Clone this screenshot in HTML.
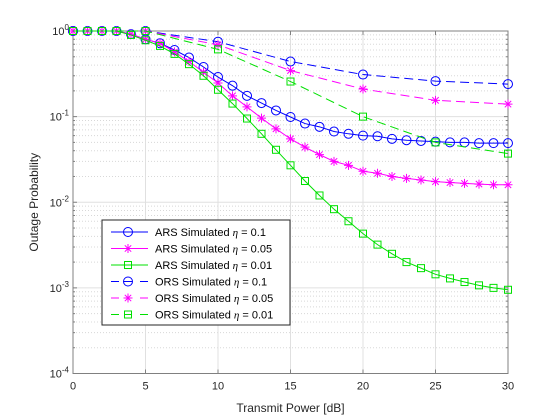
<!DOCTYPE html>
<html><head><meta charset="utf-8"><style>
body{margin:0;background:#fff;}
svg{display:block;font-family:"Liberation Sans",sans-serif;}
</style></head><body>
<svg id="chart" width="560" height="420"></svg>
<script>
const xTicks=[0,5,10,15,20,25,30];
const yTickExps=[0,-1,-2,-3,-4];
const dbAll=[];for(let i=0;i<=30;i++)dbAll.push(i);
const dbORS=[0,5,10,15,20,25,30];
const ars01=[1,1,1,1,0.92,0.8,0.72,0.6,0.49,0.38,0.29,0.23,0.175,0.144,0.118,0.099,0.083,0.076,0.067,0.063,0.06,0.059,0.055,0.053,0.052,0.051,0.05,0.05,0.049,0.049,0.049];
const ars005=[1,1,1,1,0.92,0.8,0.72,0.57,0.44,0.33,0.247,0.175,0.13,0.096,0.072,0.055,0.044,0.036,0.03,0.027,0.023,0.0218,0.02,0.019,0.0182,0.0174,0.017,0.0166,0.0163,0.016,0.016];
const ars001=[1,1,1,1,0.9,0.78,0.67,0.54,0.41,0.3,0.206,0.142,0.095,0.063,0.041,0.027,0.0177,0.012,0.0083,0.006,0.0043,0.0032,0.0025,0.002,0.0017,0.00144,0.00129,0.00117,0.00107,0.001,0.00095];
const ors01=[1,1,0.75,0.44,0.31,0.26,0.24];
const ors005=[1,1,0.69,0.345,0.21,0.155,0.14];
const ors001=[1,1,0.61,0.257,0.1,0.05,0.037];
const labels=["ARS Simulated","ARS Simulated","ARS Simulated","ORS Simulated","ORS Simulated","ORS Simulated"];
const etas=["0.1","0.05","0.01","0.1","0.05","0.01"];

const L=73,R=508,T=31,B=373.5;
const NS="http://www.w3.org/2000/svg";
const svg=document.getElementById('chart');
const X=v=>L+(v-0)/30*(R-L);
const Y=v=>T+(-Math.log10(v))/4*(B-T);
function mk(tag,attrs,parent){const e=document.createElementNS(NS,tag);for(const k in attrs)e.setAttribute(k,attrs[k]);(parent||svg).appendChild(e);return e;}

const grid=mk('g',{});


for(let d=0;d<4;d++){for(let m=2;m<=9;m++){const y=Y(m*Math.pow(10,-d-1));mk('line',{x1:L,x2:R,y1:y,y2:y,stroke:'#d8d8d8','stroke-dasharray':'1,2','stroke-width':1},grid);}}
xTicks.forEach(t=>{mk('line',{x1:X(t),x2:X(t),y1:T,y2:B,stroke:'#e0e0e0','stroke-width':1},grid);});
yTickExps.forEach(e=>{const y=Y(Math.pow(10,e));mk('line',{x1:L,x2:R,y1:y,y2:y,stroke:'#e0e0e0','stroke-width':1},grid);});

const axes=mk('g',{});


const AX='#808080';
mk('rect',{x:L,y:T,width:R-L,height:B-T,fill:'none',stroke:AX,'stroke-width':1},axes);
xTicks.forEach(t=>{
 mk('line',{x1:X(t),x2:X(t),y1:B,y2:B-4,stroke:AX},axes);
 mk('line',{x1:X(t),x2:X(t),y1:T,y2:T+4,stroke:AX},axes);
 const tx=mk('text',{x:X(t),y:B+16,'text-anchor':'middle','font-size':11,fill:'#262626'},axes);tx.textContent=t;
 
 
});
for(let d=0;d<4;d++){for(let m=2;m<=9;m++){const y=Y(m*Math.pow(10,-d-1));mk('line',{x1:L,x2:L+2,y1:y,y2:y,stroke:AX},axes);mk('line',{x1:R,x2:R-2,y1:y,y2:y,stroke:AX},axes);}}
yTickExps.forEach(e=>{
 const y=Y(Math.pow(10,e));
 mk('line',{x1:L,x2:L+4,y1:y,y2:y,stroke:AX},axes);
 mk('line',{x1:R,x2:R-4,y1:y,y2:y,stroke:AX},axes);
 const tx=mk('text',{x:L-4,y:y+4,'text-anchor':'end','font-size':11,fill:'#262626'},axes);
 tx.innerHTML='10<tspan dy="-5" font-size="8">'+e+'</tspan>';
 
 
});
const xt=mk('text',{x:(L+R)/2,y:412,'text-anchor':'middle','font-size':12,fill:'#262626'});
xt.textContent='Transmit Power [dB]';


const yt=mk('text',{x:0,y:0,'text-anchor':'middle','font-size':12,fill:'#262626',transform:'translate(38,'+((T+B)/2)+') rotate(-90)'});
yt.textContent='Outage Probability';



function marker(g,type,x,y,c){
 if(type==='o')mk('circle',{cx:x,cy:y,r:4.5,fill:'none',stroke:c},g);
 else if(type==='s')mk('rect',{x:x-3.5,y:y-3.5,width:7,height:7,fill:'none',stroke:c},g);
 else{const r=4.5;mk('path',{d:`M${x-r},${y}H${x+r}M${x},${y-r}V${y+r}M${x-3.2},${y-3.2}L${x+3.2},${y+3.2}M${x-3.2},${y+3.2}L${x+3.2},${y-3.2}`,stroke:c,fill:'none'},g);}
}
const series=[
 {xs:dbAll,ys:ars01,c:'#0000ff',m:'o',dash:null,n:'ars-eta-0.1'},
 {xs:dbAll,ys:ars005,c:'#ff00ff',m:'*',dash:null,n:'ars-eta-0.05'},
 {xs:dbAll,ys:ars001,c:'#00e000',m:'s',dash:null,n:'ars-eta-0.01'},
 {xs:dbORS,ys:ors01,c:'#0000ff',m:'o',dash:'9,5',n:'ors-eta-0.1'},
 {xs:dbORS,ys:ors005,c:'#ff00ff',m:'*',dash:'9,5',n:'ors-eta-0.05'},
 {xs:dbORS,ys:ors001,c:'#00e000',m:'s',dash:'9,5',n:'ors-eta-0.01'}
];
series.forEach(s=>{
 const g=mk('g',{});
 
 
 const pts=s.xs.map((x,i)=>X(x)+','+Y(s.ys[i])).join(' ');
 const a={points:pts,fill:'none',stroke:s.c,'stroke-width':1};if(s.dash)a['stroke-dasharray']=s.dash;
 mk('polyline',a,g);
 s.xs.forEach((x,i)=>marker(g,s.m,X(x),Y(s.ys[i]),s.c));
});

const lg=mk('g',{});


mk('rect',{x:102,y:220,width:188,height:105,fill:'#fff',stroke:'#262626'},lg);
series.forEach((s,i)=>{
 const y=232+i*16.5;
 const e=mk('g',{},lg);
 
 
 if(s.dash){mk('line',{x1:111,x2:119,y1:y,y2:y,stroke:s.c},e);mk('line',{x1:140,x2:148,y1:y,y2:y,stroke:s.c},e);mk('line',{x1:124,x2:132,y1:y,y2:y,stroke:s.c},e);}
 else mk('line',{x1:111,x2:148,y1:y,y2:y,stroke:s.c},e);
 marker(e,s.m,128,y,s.c);
 const t=mk('text',{x:155,y:y+4,'font-size':11,fill:'#000'},e);
 t.innerHTML=labels[i]+' <tspan font-family="Liberation Serif" font-style="italic">η</tspan> = '+etas[i];
});
</script>
</body></html>
